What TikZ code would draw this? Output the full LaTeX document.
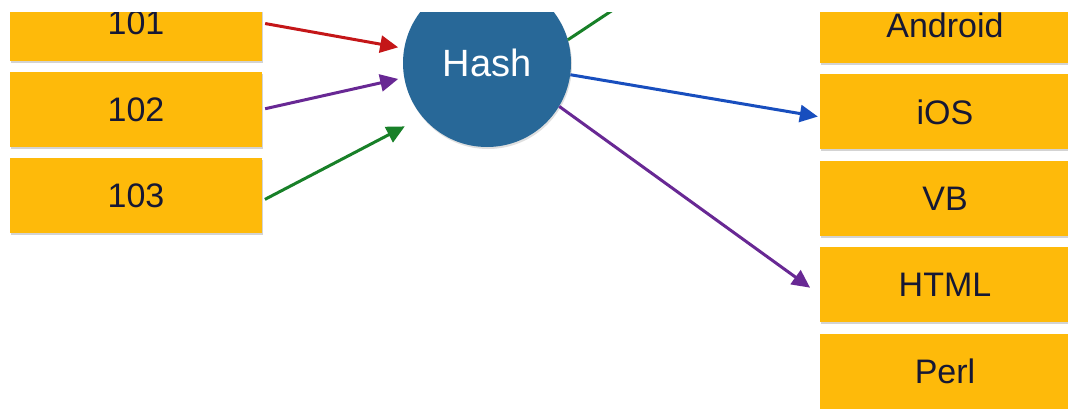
\documentclass[tikz,border=0pt]{standalone}
\usepackage{fontspec}
\setmainfont{Liberation Sans}
\usepackage{tikz}
\usetikzlibrary{arrows.meta, positioning, shadows, calc}
\definecolor{boxorange}{RGB}{254,186,10}
\definecolor{hashblue}{RGB}{40,104,152}
\definecolor{textnavy}{RGB}{22,24,52}
\definecolor{arrred}{RGB}{196,22,24}
\definecolor{arrpurple}{RGB}{104,40,148}
\definecolor{arrgreen}{RGB}{24,128,40}
\definecolor{arrblue}{RGB}{24,78,190}

\begin{document}
\begin{tikzpicture}[
  x=1pt, y=-1pt,
  node distance=11pt and 0pt,
  keybox/.style={fill=boxorange, text=textnavy, inner sep=0pt,
              minimum width=252pt, minimum height=75pt,
              font=\fontsize{34}{38}\selectfont,
              drop shadow={shadow xshift=1pt, shadow yshift=-2pt, opacity=0.35}},
  hashnode/.style={circle, fill=hashblue, text=white, inner sep=0pt,
              minimum size=168pt, font=\fontsize{38}{42}\selectfont,
              drop shadow={shadow xshift=1pt, shadow yshift=-2pt, opacity=0.25}},
  arr/.style={-{Triangle[length=18pt, width=17pt]}, line width=3pt},
]
\useasboundingbox (0,0) rectangle (1068,408);
\clip (0,12) rectangle (1068,408);

% ── keys ─────────────────────────────────────────────────────
\node[keybox] (n101) at (136,23) {101};
\node[keybox, below=of n101] (n102) {102};
\node[keybox, below=of n102] (n103) {103};

% ── hash function ────────────────────────────────────────────
\node[hashnode] (hash) at (487,63) {Hash};

% ── buckets ──────────────────────────────────────────────────
\node[keybox, minimum width=250pt] (android) at (945,25.5) {Android};
\node[keybox, minimum width=250pt, below=of android] (ios) {iOS};
\node[keybox, minimum width=250pt, below=of ios] (vb) {VB};
\node[keybox, minimum width=250pt, below=of vb] (html) {HTML};
\node[keybox, minimum width=250pt, below=of html] (perl) {Perl};

\coordinate (offtop) at (640,-8);

\draw[arr, arrred, shorten <=3pt, shorten >=6pt] (n101.east) -- (hash.170);
\draw[arr, arrpurple, shorten <=3pt, shorten >=6pt] (n102.east) -- (hash.190);
\draw[arr, arrgreen, shorten <=3pt, shorten >=20pt] ([yshift=-5pt]n103.east) -- (hash.220);
\draw[line width=3pt, arrgreen] (hash.16) -- (offtop);
\draw[arr, arrblue, shorten >=2pt] (hash.-8) -- ([yshift=-5pt]ios.west);
\draw[arr, arrpurple, shorten >=12pt] (hash.-31) -- ([yshift=-10pt]html.west);

\end{tikzpicture}
\end{document}
